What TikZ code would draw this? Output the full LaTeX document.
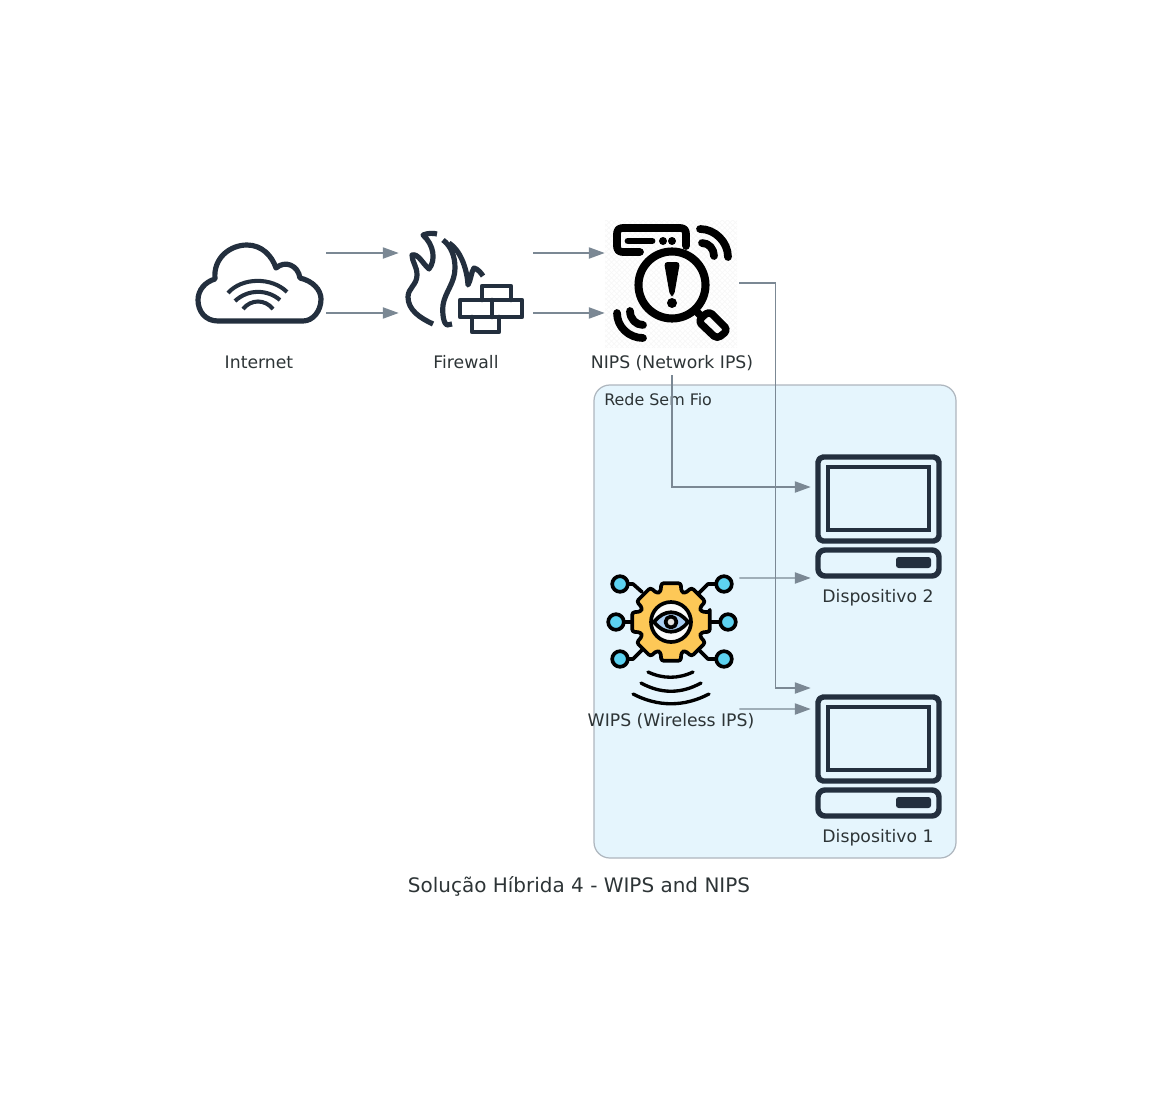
\documentclass[tikz,border=0pt]{standalone}
\usepackage{fontspec}
\setmainfont{DejaVu Sans}
\usetikzlibrary{arrows.meta,patterns}
\definecolor{inkdark}{HTML}{232F3E}
\definecolor{textdark}{HTML}{2D3436}
\definecolor{linkgray}{HTML}{7B8894}
\definecolor{zonefill}{HTML}{E5F5FD}
\definecolor{zoneedge}{HTML}{AEB6BE}
\definecolor{gearfill}{HTML}{FDC857}
\definecolor{dotfill}{HTML}{5DD2F0}
\definecolor{eyefill}{HTML}{A9CDF2}
\tikzset{
  iconbox/.style={minimum width=2.68cm,minimum height=2.68cm,inner sep=0pt},
  caption/.style={font=\fontsize{9.82}{12}\selectfont,text=textdark,text height=7.3pt,text depth=2pt,minimum height=0.44cm,inner sep=0pt},
  link/.style={draw=linkgray,line width=0.75pt,-{Triangle[length=9pt,width=6.4pt]}},
  iconline/.style={draw=inkdark,line width=2.95pt,line cap=round,line join=round},
  brickline/.style={iconline,line width=2.6pt},
  blackline/.style={draw=black,line width=4.4pt,line cap=round,line join=round},
  gearline/.style={draw=black,line width=2.1pt,line cap=round,line join=round},
}
\newcommand{\deviceicon}[1]{
  \begin{scope}[shift={(0,#1)}]
    \draw[iconline,line width=3.1pt,rounded corners=3pt] (818,457) rectangle (939,541);
    \draw[iconline,line width=2.7pt,line join=miter] (828,467) rectangle (929,530);
    \draw[iconline,line width=3.1pt,rounded corners=4pt] (818,550) rectangle (939,576);
    \fill[inkdark,rounded corners=1.5pt] (896,557) rectangle (931,568);
  \end{scope}
}
\begin{document}
\begin{tikzpicture}[x=0.02cm,y=-0.02cm]
  \useasboundingbox (0,0) rectangle (1159,1095);
  % wireless zone
  \draw[zoneedge,fill=zonefill,line width=0.7pt,rounded corners=9pt] (594,385) rectangle (956,858);
  \node[anchor=west,inner sep=0pt,text=textdark,font=\fontsize{9.05}{11}\selectfont] (zonelabel) at (604,400) {Rede Sem Fio};
  % boxes that hold the icons
  \node[iconbox] (inet) at (259,283) {};
  \node[iconbox] (fw) at (466,283) {};
  \node[iconbox] (nips) at (672,283) {};
  \node[iconbox] (wips) at (672,643) {};
  \node[iconbox] (dev2) at (878,517) {};
  \node[iconbox] (dev1) at (878,757) {};
  \node[caption] (inetlabel) at (259,364) {Internet};
  \node[caption] (fwlabel) at (466,364) {Firewall};
  \node[caption] (nipslabel) at (672,364) {NIPS (Network IPS)};
  \node[caption] (wipslabel) at (671,722) {WIPS (Wireless IPS)};
  \node[caption] (dev2label) at (878,598) {Dispositivo 2};
  \node[caption] (dev1label) at (878,838) {Dispositivo 1};
  \node[caption,font=\fontsize{11.37}{13}\selectfont,text height=8.5pt,text depth=2.4pt] (title) at (579,887) {Solução Híbrida 4 - WIPS and NIPS};
  % cloud
  \draw[iconline] (218,321) .. controls (205,321) and (198,311) .. (198,300)
    .. controls (198,290) and (205,282) .. (215,279)
    .. controls (213,258) and (230,245) .. (247,245)
    .. controls (262,245) and (272,256) .. (276,268)
    .. controls (285,260) and (298,265) .. (300,278)
    .. controls (313,281) and (321,290) .. (321,299)
    .. controls (321,311) and (313,321) .. (303,321) -- cycle;
  \draw[iconline,line width=2.3pt,line cap=butt] (228,293) .. controls (242,277) and (272,277) .. (287,292);
  \draw[iconline,line width=2.3pt,line cap=butt] (235,301) .. controls (248,289) and (267,289) .. (280,300);
  \draw[iconline,line width=2.3pt,line cap=butt] (243,309) .. controls (251,299) and (265,299) .. (273,309);
  % flames
  \draw[iconline,line cap=butt] (433,324) .. controls (420,318) and (408,310) .. (408,297)
    .. controls (408,288) and (417,285) .. (417,275) .. controls (417,266) and (412,262) .. (412,255)
    .. controls (418,253) and (423,264) .. (429,269) .. controls (436,260) and (434,245) .. (423,235)
    .. controls (428,233) and (433,233) .. (437,234);
  \draw[iconline,line cap=butt] (443,240) .. controls (451,246) and (455,256) .. (455,268)
    .. controls (455,283) and (445,292) .. (443,305) .. controls (442,315) and (444,324) .. (447,325) -- (452,324);
  \draw[iconline,line cap=butt] (449,243) .. controls (460,250) and (467,268) .. (468,285)
    .. controls (471,280) and (471,272) .. (474,268) .. controls (478,269) and (481,273) .. (483,276);
  % bricks
  \draw[brickline] (482,300) -- (482,286) -- (511,286) -- (511,300);
  \draw[brickline] (460,300) rectangle (522,317);
  \draw[brickline] (492,300) -- (492,317);
  \draw[brickline] (472,317) -- (472,332) -- (499,332) -- (499,317);
  % magnifier
  \fill[pattern=crosshatch,pattern color=black!3] (605,220) rectangle (737,347);
  \draw[blackline] (686,246) -- (686,234) .. controls (686,230) and (684,228) .. (680,228) -- (623,228)
    .. controls (619,228) and (617,230) .. (617,234) -- (617,246)
    .. controls (617,250) and (619,252) .. (623,252) -- (640,252);
  \draw[blackline,line width=3.9pt] (628,241) -- (652,241);
  \fill (663,241) circle (4) (672,241) circle (4);
  \draw[blackline,line width=4.6pt] (672,285) circle (33.5);
  \fill[rounded corners=2pt] (664,262) -- (680,262) -- (674,296) -- (670,296) -- cycle;
  \fill (672,303) circle (5);
  \draw[blackline,line width=4.2pt,rounded corners=2.5pt] (709,311) -- (728,330) -- (717,339) -- (698,321) -- cycle;
  \draw[blackline] (695,310) -- (701,316);
  \draw[blackline] (700,229) .. controls (715,229) and (728,242) .. (728,257);
  \draw[blackline] (702,243) .. controls (709,243) and (714,249) .. (714,256);
  \draw[blackline] (617,313) .. controls (617,327) and (629,338) .. (643,338);
  \draw[blackline] (630,311) .. controls (630,319) and (636,325) .. (643,325);
  % gear with the eye
  \draw[gearline] (620,584) -- (633,584) -- (642,592);
  \draw[gearline] (724,584) -- (708,584) -- (699,593);
  \draw[gearline] (616,622) -- (634,622);
  \draw[gearline] (728,622) -- (708,622);
  \draw[gearline] (620,659) -- (633,659) -- (642,650);
  \draw[gearline] (724,659) -- (708,659) -- (699,650);
  \foreach \dotx/\doty in {620/584,724/584,616/622,728/622,620/659,724/659}
    \draw[gearline,fill=dotfill] (\dotx,\doty) circle (7.8);
  \begin{scope}[shift={(671,622)}]
    \draw[gearline,fill=gearfill,rounded corners=1.4pt] (-14:40)
      \foreach \ang in {0,45,...,315} { -- (\ang-14:40) -- (\ang+14:40) -- (\ang+19:32) -- (\ang+26:32) } -- cycle;
    \draw[gearline,fill=white!60!gray!10] (0,0) circle (20);
    \draw[gearline,fill=eyefill] (-17,0) .. controls (-7,-13) and (7,-13) .. (17,0) .. controls (7,13) and (-7,13) .. (-17,0) -- cycle;
    \draw[gearline,fill=black!12] (0,0) circle (5.5);
  \end{scope}
  \draw[gearline,line width=1.9pt] (648,672) .. controls (663,679) and (678,679) .. (693,672);
  \draw[gearline,line width=1.9pt] (641,683) .. controls (661,694) and (681,694) .. (701,683);
  \draw[gearline,line width=1.9pt] (633,694) .. controls (658,707) and (684,707) .. (709,694);
  % computers
  \deviceicon{0}
  \deviceicon{240}
  % connectors
  \draw[link] ([yshift=0.6cm]inet.east) -- ([yshift=0.6cm]fw.west);
  \draw[link] ([yshift=-0.6cm]inet.east) -- ([yshift=-0.6cm]fw.west);
  \draw[link] ([yshift=0.6cm]fw.east) -- ([yshift=0.6cm]nips.west);
  \draw[link] ([yshift=-0.6cm]fw.east) -- ([yshift=-0.6cm]nips.west);
  \draw[link] (nips.east) -- ++(36,0) |- ([yshift=1.38cm]dev1.west);
  \draw[link] (nipslabel.south) |- ([yshift=0.6cm]dev2.west);
  \draw[link] ([yshift=1.3cm]wips.east) -- ([yshift=-1.22cm]dev2.west);
  \draw[link] ([yshift=-1.32cm]wips.east) -- ([yshift=0.96cm]dev1.west);
\end{tikzpicture}
\end{document}
